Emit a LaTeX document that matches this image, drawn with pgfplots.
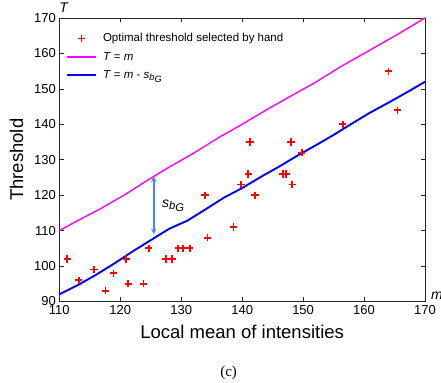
\documentclass[border=0pt]{standalone}
\usepackage{pgfplots}
\pgfplotsset{compat=1.18}
\usepackage{fontspec}
\setmainfont{Liberation Sans}
\newfontfamily\serifc{Liberation Serif}
\newcommand{\sbg}{\textit{s}\raisebox{-0.3ex}{\fontsize{0.8em}{1em}\selectfont\textit{b}\raisebox{-0.35ex}{\textit{G}}}}
\definecolor{marrow}{RGB}{70,135,255}
\definecolor{mmag}{RGB}{255,0,255}
\definecolor{mred}{RGB}{255,0,0}
\definecolor{mblue}{RGB}{0,0,255}
\pgfplotsset{
  marklegend/.style={legend image code/.code={\draw[mark repeat=2, mark phase=2, ##1] plot coordinates {(0bp,0bp)(14.5bp,0bp)(29bp,0bp)};}},
  linelegend/.style={legend image code/.code={\draw[##1] (0bp,0bp) -- (29bp,0bp);}},
}
\begin{document}
\begin{tikzpicture}
\begin{axis}[
  scale only axis, width=365.7bp, height=283.5bp,
  xmin=110, xmax=170, ymin=90, ymax=170,
  clip=false,
  xtick={110,120,...,170}, ytick={90,100,...,170},
  tick align=inside, major tick length=4.5bp,
  axis line style={line width=0.8bp, black!85},
  every tick/.style={black!85, line width=0.6bp},
  tick label style={font=\fontsize{13bp}{13bp}\selectfont},
  /pgf/number format/assume math mode=true,
  xlabel={Local mean of intensities}, ylabel={Threshold},
  label style={font=\fontsize{18.5bp}{19bp}\selectfont},
  xlabel style={yshift=-4bp},
  ylabel style={yshift=4bp},
  legend style={draw=none, fill=none, at={(0.01,0.96)}, anchor=north west,
    font=\fontsize{11.5bp}{13bp}\selectfont, row sep=5bp,
    /tikz/every odd column/.append style={column sep=4bp}},
  legend cell align=left,
]
\coordinate (sw) at (rel axis cs:0,0);
\coordinate (ne) at (rel axis cs:1,1);
\addplot[only marks, mark=+, color=mred, mark size=3.6bp,
  mark options={solid, draw=mred, line width=1.7bp}, marklegend]
  coordinates {
  (164.0,155) (165.5,144) (156.5,140) (141.3,135) (148.0,135) (149.8,132)
  (141.0,126) (146.7,126) (147.2,126) (139.8,123) (148.2,123) (133.9,120)
  (142.1,120) (138.6,111) (134.3,108) (124.7,105) (129.5,105) (130.3,105)
  (131.4,105) (127.5,102) (128.5,102) (121.0,102) (111.3,102) (115.7,99)
  (118.9,98) (113.2,96) (121.3,95) (123.8,95) (117.6,93)
  };
\addlegendentry{Optimal threshold selected by hand}
\addplot[color=mmag, line width=1.4bp, linelegend]
  coordinates {
  (110,110) (113,112.8) (117,116.4) (121,120.4) (124,123.7) (128,127.9)
  (132,131.8) (136,136.1) (140,140.0) (144,144.1) (148,148.0) (152,151.8)
  (156,156.1) (160,160.0) (164,163.9) (167,166.9) (170,170)
  };
\addlegendentry{\textit{T} = \textit{m}}
\addplot[color=mblue, line width=1.9bp, linelegend]
  coordinates {
  (110,92) (113,94.6) (116,97.5) (119,100.7) (122,104.1) (125,107.3)
  (128,110.5) (131,112.8) (134,116.0) (137,119.3) (140,122.0) (143,125.1)
  (146,128.0) (149,131.1) (152,134.0) (155,137.0) (158,140.2) (161,143.3)
  (164,146.1) (167,149.0) (170,152)
  };
\addlegendentry{\textit{T} = \textit{m} - \sbg}
\draw[<->, >=stealth, draw=marrow, line width=1.5bp] (axis cs:125.5,109) -- (axis cs:125.5,125.3);
\node[anchor=west, font=\fontsize{14bp}{14bp}\selectfont] at (axis cs:126.3,117) {\sbg};
\node[anchor=south west, inner sep=0pt, font=\fontsize{14bp}{14bp}\selectfont] at ([yshift=5bp]rel axis cs:0,1) {\textit{T}};
\node[anchor=base west, inner sep=0pt, font=\fontsize{14bp}{14bp}\selectfont] at ([xshift=6bp,yshift=1.5bp]rel axis cs:1,0) {\textit{m}};
\node[font=\serifc\fontsize{15bp}{15bp}\selectfont, yshift=-71.5bp] at (rel axis cs:0.463,0) {(c)};
\end{axis}
\pgfresetboundingbox
\path (sw) ++(-59.3bp,-81.5bp) rectangle ([shift={(16bp,18bp)}]ne);
\end{tikzpicture}
\end{document}
